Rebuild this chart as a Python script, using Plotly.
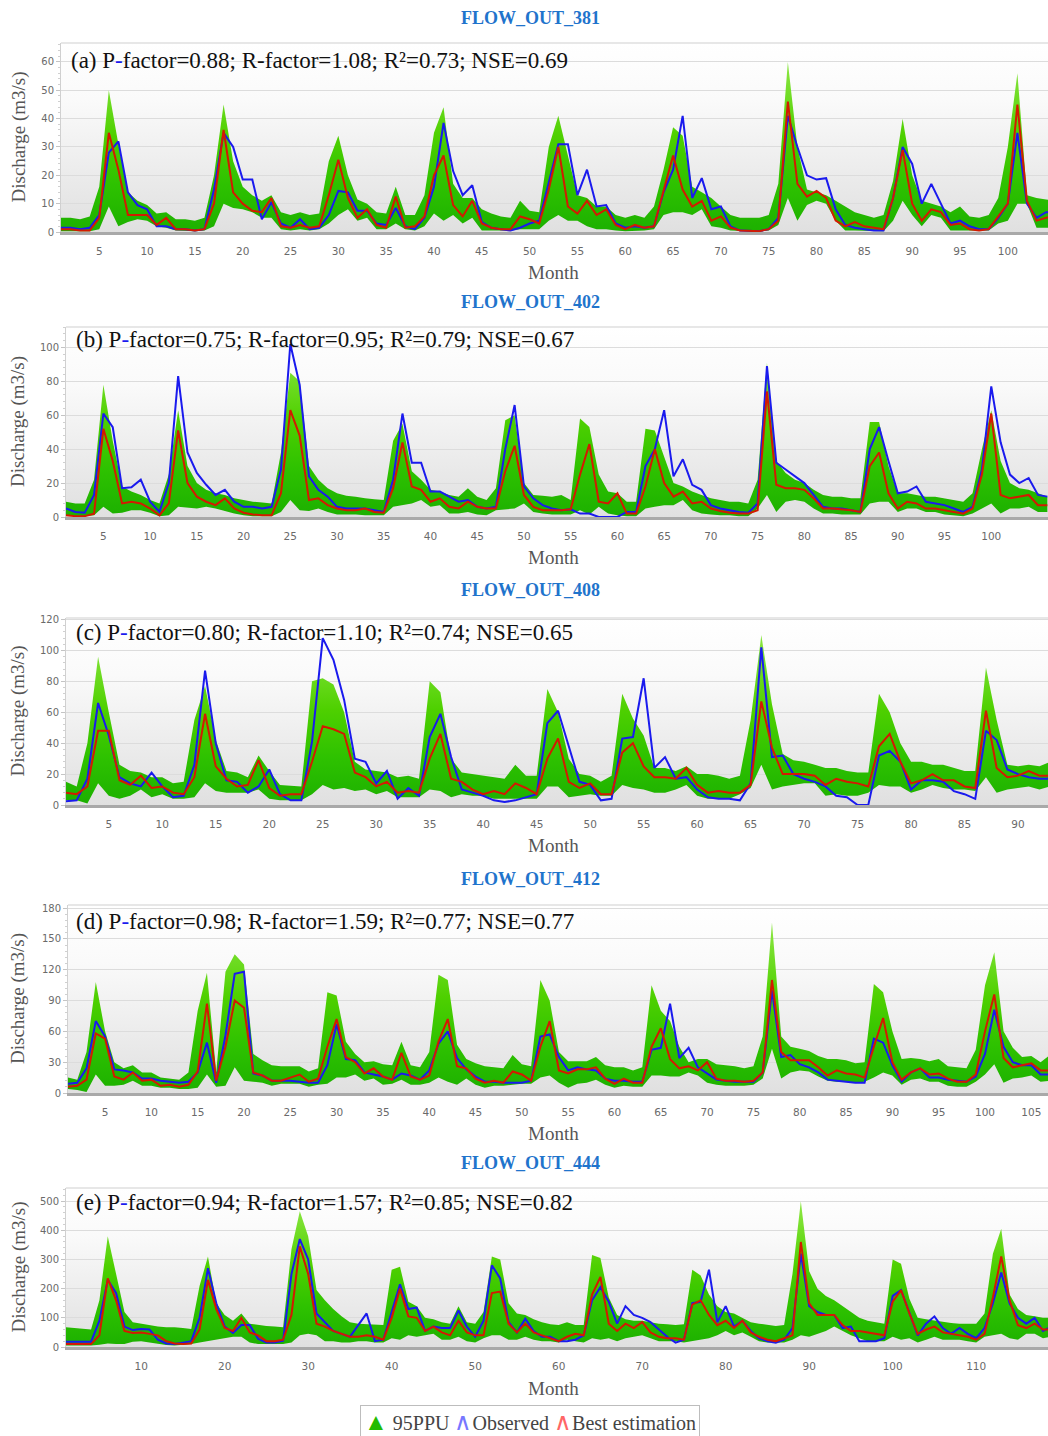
import base64
import plotly.graph_objects as go

W, H = 1048, 1436

# ---------------- data ----------------
upper_a = [5, 5, 4.5, 5.5, 16, 50, 31, 14, 11, 9.5,
           6.5, 7, 4.5, 4.5, 4, 5, 20, 45, 25, 16,
           13, 11, 13, 7, 6, 7, 6, 6.5, 25, 34,
           20, 11.5, 10, 7, 6.5, 16, 6, 6, 13, 35,
           44, 17, 12, 12, 8, 6.5, 5.5, 5, 11, 7.5,
           7, 30, 41, 27, 13, 12, 9, 9, 6, 5,
           6, 5, 9, 22, 37, 34, 16, 14, 12, 9,
           6, 5, 5, 5, 6, 17, 60, 30, 15, 14,
           13, 11, 9, 7, 6, 5, 6, 18, 40, 20,
           11, 10, 9, 7, 9, 5.5, 5, 6, 12, 30,
           56, 13, 12, 11.5, 11]
lower_a = [0.3, 0.3, 0.3, 0.3, 1, 9, 2, 3.5, 4.5, 4,
           2, 1.5, 0.5, 0.3, 0.3, 0.5, 2, 10, 8.5, 8,
           7, 5, 5, 1, 0.5, 1, 0.5, 1, 3, 6,
           8, 4, 5, 1, 1, 3, 1, 0.5, 2, 6.5,
           4, 6, 3, 5, 0.5, 0.5, 0.5, 0.5, 1, 1,
           1, 4, 6, 4, 4, 2, 1, 1, 0.5, 0.3,
           0.5, 0.5, 1, 6, 7, 7, 6, 8, 2, 1.5,
           0.5, 0.3, 0.3, 0.3, 0.5, 2.5, 12, 4, 9.5, 11,
           10, 4, 0.5, 0.5, 0.5, 0.3, 0.3, 4, 11, 6,
           2, 6, 5, 0.5, 0.5, 0.3, 0.3, 0.5, 3, 4,
           10, 10, 1.5, 1.5, 1.5]
obs_a = [1.5, 1.5, 1, 1.5, 6, 28, 32, 14, 9.5, 8,
         2, 2, 1, 1, 0.5, 1, 15, 35, 30, 18.5,
         18.5, 4.5, 10.5, 3, 1.5, 4.5, 1, 1.5, 6, 14.5,
         14, 7.5, 7.5, 3, 2.5, 8.5, 2, 1, 5, 16,
         38.5, 21.5, 13, 16.5, 3.5, 1.5, 1, 0.5, 1.5, 3,
         4, 17, 31, 31, 13, 22, 9, 9.5, 3, 1.5,
         2, 1.5, 2, 14, 22, 41, 12, 19, 8, 9,
         2, 0.5, 0.5, 0.3, 1, 5, 41, 30, 20, 18.5,
         19, 8, 2.5, 1.5, 1, 0.5, 0.5, 12, 30, 24,
         10, 17, 10, 3, 4, 2, 1, 1, 5, 10,
         35, 10, 5, 7, 7]
best_a = [1, 1, 0.5, 0.5, 5, 35, 22, 6, 6, 6,
          2.5, 5, 1, 1, 0.5, 1, 10, 36, 14, 10,
          7.5, 7, 12, 2, 1.5, 2.5, 1.5, 2, 13, 25.5,
          12, 5, 8, 2.5, 1.5, 12.5, 1.5, 2, 5.5, 20,
          27, 9.5, 5.5, 11, 3, 1.5, 1, 1, 5.5, 4.5,
          3, 15, 30, 9, 6.5, 11, 6, 8, 2.5, 1,
          2.5, 1.5, 2, 15, 27, 15, 9, 11, 4, 5.5,
          1.5, 0.5, 0.5, 0.3, 1, 4, 46, 17, 12.5, 14.5,
          12, 4, 2, 3.5, 2, 1.5, 1, 12, 29, 10,
          4, 8, 7, 2.5, 3, 1, 0.5, 1, 5.5, 10,
          45, 11, 4, 5, 6]

upper_b = [9, 8, 8, 22, 78, 45, 18, 15, 13, 10,
           8, 25, 63, 30, 20, 16, 14, 13, 11, 10,
           9, 8.5, 8, 38, 85, 80, 30, 22, 17, 14,
           12.5, 12, 11, 10.5, 10, 45, 55, 27, 22, 16,
           15, 13, 12, 17, 12, 10, 17, 57, 60, 20,
           13, 12.5, 12, 13, 10, 58, 53, 25, 15, 14,
           9, 9, 52, 51, 36, 20, 18, 15, 13, 11,
           10, 9, 9, 8, 22, 91, 33, 26, 22, 20,
           16, 13, 12, 12, 11, 11, 56, 56, 30, 14,
           14, 13, 12, 12, 11, 10, 9, 14, 40, 63,
           33, 20, 17, 16, 14, 12]
lower_b = [1, 0.5, 0.5, 1, 6, 2, 2.5, 4, 4, 2.5,
           0.5, 1, 6, 5.5, 5, 6, 5, 3.5, 2, 1,
           0.5, 0.5, 0.5, 3, 10, 4, 3.5, 5, 3, 1.5,
           1.5, 1.5, 1, 1, 1, 6, 7, 8, 10, 6,
           7, 2, 2, 3, 1.5, 1, 4, 4.5, 5, 8,
           3, 2, 1.5, 1.5, 1.5, 4, 1.5, 6, 2, 1,
           0.5, 0.5, 5, 6, 7, 7, 10, 4, 2, 1.5,
           1, 1, 0.5, 0.5, 5, 13, 3, 9, 10, 9,
           5, 2, 2, 1.5, 1.5, 1.5, 8, 9, 9, 3,
           5, 5, 3, 3, 1.5, 1, 0.5, 2, 5, 8,
           2, 5, 5, 6, 3, 3]
obs_b = [5, 3, 2.5, 13, 61, 53, 17, 17.5, 22, 9,
         3, 20, 83, 38, 26, 19, 13, 16, 9, 6,
         6, 5, 6, 28, 102, 78, 24, 16, 12, 6,
         5, 5, 5, 4, 3, 22, 61, 32, 32, 15,
         15, 12, 9, 10, 6, 5, 6, 40, 66, 18,
         11, 7, 5, 4, 4.5, 2, 2, 0, 0, 0,
         3, 3, 30, 40, 63, 24, 34, 19, 16, 7,
         5, 4, 3, 2.5, 8, 89, 32, 28, 24, 20,
         13, 6, 5, 5, 4, 3, 40, 53, 33, 14,
         15, 18, 9, 8, 7, 5, 3, 6, 28, 77,
         44, 25, 20, 23, 13, 12]
best_b = [1, 0.5, 0.5, 2, 52, 33, 8, 9, 8, 5,
          1, 8, 51, 20, 12, 9, 7, 11, 5, 2.5,
          1.5, 1, 1, 14, 63, 48, 10, 11, 7, 5,
          4, 4, 5, 3, 2.5, 17, 44, 18, 16, 9,
          11, 6, 5, 9, 6, 5, 5, 27, 42, 13,
          6, 4, 4, 4, 4.5, 25, 43, 9, 8, 14,
          2, 2, 18, 40, 20, 12, 15, 8, 9, 5,
          3.5, 2.5, 2, 2, 4, 74, 19, 17, 17, 16,
          11, 5, 5, 4.5, 4, 3, 30, 38, 14, 5,
          9, 8, 5, 5, 4, 3, 2, 5, 25, 61,
          13, 11, 12, 13, 7, 7]

upper_c = [15, 12, 40, 96, 60, 26, 22, 21, 18, 18,
           14, 15, 55, 77, 42, 22, 21, 18, 32, 22,
           13, 12.5, 12, 80, 82, 78, 60, 28, 23, 22,
           21, 18, 19, 17, 80, 73, 30, 21, 20, 19,
           18, 17, 26, 19, 19, 75, 60, 30, 20, 19,
           15, 19, 72, 56, 45, 24, 24, 22, 25, 20,
           20, 19, 17, 19, 55, 110, 65, 33, 29, 28,
           26, 24, 24, 22, 21, 21, 72, 60, 40, 28,
           28, 26, 26, 24, 22, 22, 89, 55, 26, 25,
           26, 25, 28]
lower_c = [3, 3, 1, 14, 6, 4, 6, 10, 5, 7,
           4, 4, 5, 14, 9, 8, 8, 8, 10, 4,
           3, 3, 3, 7, 13, 10, 11, 9, 10, 7,
           9, 5, 5, 5, 10, 9, 5, 7, 6, 6,
           4, 4, 4, 4, 4, 12, 12, 5, 6, 7,
           6, 6, 13, 11, 10, 8, 8, 10, 13, 6,
           4, 4, 4, 7, 11, 26, 10, 12, 13, 14,
           14, 6, 7, 6, 6, 8, 13, 12, 12, 8,
           10, 13, 11, 10, 10, 9, 18, 8, 10, 11,
           12, 10, 12]
obs_c = [2.5, 3, 17, 66, 45, 18, 14, 12, 21, 12,
         5, 6, 26, 87, 40, 16, 15, 8, 12, 23,
         7, 3, 3, 41, 108, 94, 68, 30, 28, 14,
         22, 4, 11, 6, 44, 59, 31, 10, 8, 6,
         3, 2, 3, 5, 7, 53, 61, 38, 15, 13,
         3, 4, 43, 44, 82, 24, 31, 17, 18, 10,
         5, 4, 4, 3, 14, 102, 31, 32, 20, 17,
         15, 12, 6, 5, 0, 0, 32, 35, 28, 10,
         16, 16, 15, 9, 7, 4, 48, 42, 23, 20,
         18, 17, 17]
best_c = [8, 7, 12, 48, 48, 16, 13, 19, 11, 12,
          8, 7, 18, 59, 25, 17, 12, 13, 29, 11,
          6, 7, 7, 28, 51, 49, 46, 21, 18, 12,
          15, 8, 9, 8, 30, 46, 17, 15, 10, 7,
          9, 7, 14, 11, 7, 30, 43, 15, 11, 14,
          7, 7, 34, 40, 25, 18, 18, 17, 24, 13,
          8, 9, 8, 8, 13, 67, 37, 20, 20, 20,
          19, 13, 17, 15, 14, 12, 38, 46, 28, 14,
          16, 20, 16, 16, 12, 11, 61, 24, 18, 19,
          22, 19, 19]

upper_d = [15, 13, 40, 108, 60, 30, 24, 27, 20, 20,
           15, 14, 13, 20, 80, 117, 20, 118, 135, 125,
           38, 32, 27, 26, 26, 26, 21, 24, 98, 95,
           50, 38, 30, 31, 28, 27, 50, 27, 25, 40,
           115, 110, 47, 33, 29, 26, 25, 24, 37, 28,
           26, 110, 90, 40, 31, 31, 31, 35, 27, 25,
           25, 22, 25, 105, 80, 70, 45, 30, 33, 33,
           28, 27, 26, 24, 26, 55, 166, 55, 45, 43,
           41, 36, 33, 33, 32, 29, 30, 106, 98, 60,
           33, 34, 33, 31, 33, 26, 25, 24, 42, 105,
           137, 60, 44, 35, 36, 30, 37]
lower_d = [4, 3, 1, 18, 7, 7, 8, 12, 7, 7,
           5, 5, 4, 4, 5, 18, 6, 7, 25, 12,
           11, 10, 7, 9, 9, 9, 6, 8, 9, 15,
           15, 18, 12, 14, 8, 9, 13, 8, 8, 10,
           15, 11, 8, 14, 8, 5, 7, 7, 8, 9,
           9, 15, 17, 10, 5, 9, 10, 13, 8, 5,
           7, 6, 6, 17, 17, 16, 16, 20, 17, 10,
           8, 7, 7, 7, 8, 14, 43, 14, 20, 22,
           21, 16, 12, 11, 11, 10, 11, 15, 20, 17,
           8, 13, 14, 11, 11, 7, 6, 6, 11, 18,
           28, 10, 14, 15, 17, 11, 12]
obs_d = [9, 10, 24, 70, 55, 23, 22, 20, 14, 14,
         12, 11, 10, 11, 20, 49, 10, 56, 116, 118,
         19, 17, 12, 12, 12, 11, 10, 10, 27, 67,
         33, 32, 20, 18, 16, 13, 19, 17, 13, 22,
         48, 60, 34, 23, 16, 11, 11, 10, 10, 10,
         12, 55, 57, 35, 22, 25, 23, 22, 14, 12,
         12, 11, 11, 42, 44, 87, 34, 44, 25, 19,
         13, 12, 11, 11, 11, 20, 100, 35, 37, 28,
         25, 20, 13, 12, 11, 10, 10, 53, 49, 27,
         11, 20, 24, 15, 15, 13, 12, 11, 16, 38,
         81, 45, 30, 27, 27, 18, 18]
best_d = [6, 7, 13, 58, 53, 16, 13, 20, 12, 13,
          7, 8, 6, 8, 21, 87, 12, 45, 90, 83,
          20, 17, 12, 12, 15, 18, 11, 14, 45, 72,
          35, 30, 19, 24, 16, 13, 39, 16, 13, 17,
          50, 72, 26, 24, 14, 10, 12, 10, 21, 18,
          12, 45, 70, 22, 19, 23, 23, 25, 14, 9,
          14, 10, 10, 45, 63, 33, 24, 26, 22, 30,
          14, 12, 12, 11, 12, 20, 110, 40, 32, 32,
          32, 25, 17, 22, 19, 18, 15, 45, 73, 30,
          13, 20, 24, 18, 19, 14, 11, 11, 18, 60,
          96, 34, 25, 27, 29, 22, 22]

upper_e = [68, 66, 62, 60, 160, 380, 250, 120, 85, 80,
           75, 70, 68, 68, 65, 62, 210, 310, 150, 110,
           90, 115, 80, 75, 72, 70, 68, 335, 465, 380,
           195, 160, 130, 105, 85, 80, 78, 75, 75, 265,
           275, 155, 140, 100, 95, 85, 80, 140, 85, 80,
           120, 310, 300, 150, 115, 110, 95, 85, 78, 75,
           85, 75, 75, 315, 305, 170, 110, 95, 90, 90,
           85, 80, 78, 75, 78, 265, 245, 180, 140, 120,
           115, 100, 85, 80, 75, 72, 75, 250, 500, 260,
           200, 175, 160, 140, 120, 100, 90, 85, 80, 300,
           285, 165, 100, 95, 90, 85, 82, 80, 80, 80,
           115, 320, 405, 180, 130, 110, 105, 100, 100]
lower_e = [5, 5, 5, 5, 8, 12, 10, 10, 18, 20,
           15, 10, 7, 5, 7, 10, 15, 20, 25, 30,
           35, 35, 15, 10, 10, 10, 10, 15, 40, 45,
           40, 20, 20, 15, 15, 20, 20, 15, 15, 30,
           25, 40, 35, 40, 45, 25, 25, 35, 20, 15,
           30, 40, 40, 25, 25, 35, 25, 20, 20, 15,
           25, 20, 15, 30, 25, 30, 20, 30, 35, 40,
           30, 20, 20, 20, 15, 20, 25, 30, 40, 55,
           40, 50, 35, 20, 15, 15, 15, 25, 40, 35,
           45, 55, 70, 55, 40, 30, 20, 20, 20, 35,
           25, 30, 15, 25, 35, 25, 25, 25, 20, 15,
           35, 40, 45, 30, 25, 45, 45, 30, 35]
obs_e = [18, 18, 18, 18, 90, 230, 185, 70, 58, 62,
         60, 25, 12, 10, 15, 20, 100, 270, 150, 70,
         48, 75, 75, 28, 15, 15, 22, 250, 370, 300,
         115, 85, 55, 45, 35, 75, 115, 20, 25, 120,
         215, 130, 135, 55, 70, 65, 65, 125, 70, 35,
         90, 280, 235, 85, 50, 97, 55, 35, 35, 20,
         20, 25, 40, 160, 205, 155, 80, 140, 110, 100,
         85, 60, 35, 15, 25, 150, 155, 265, 85, 140,
         70, 90, 55, 30, 20, 15, 25, 65, 320, 140,
         120, 110, 110, 65, 70, 20, 20, 20, 30, 175,
         195, 120, 40, 80, 105, 65, 45, 65, 45, 30,
         65, 150, 255, 150, 100, 80, 100, 55, 70]
best_e = [10, 10, 10, 10, 40, 235, 160, 55, 48, 50,
          45, 40, 20, 12, 10, 12, 60, 230, 130, 65,
          55, 100, 50, 40, 20, 20, 25, 110, 345, 250,
          80, 70, 55, 45, 35, 35, 40, 35, 25, 100,
          200, 105, 100, 55, 70, 50, 40, 90, 50, 40,
          40, 185, 190, 80, 50, 80, 50, 40, 30, 20,
          35, 45, 40, 180, 240, 80, 55, 80, 65, 85,
          50, 35, 30, 30, 25, 145, 160, 110, 75, 90,
          65, 90, 50, 35, 25, 20, 30, 40, 360, 150,
          110, 110, 110, 75, 55, 55, 50, 45, 40, 155,
          195, 115, 45, 60, 70, 50, 45, 40, 35, 25,
          45, 170, 310, 160, 75, 65, 80, 60, 60]

titles = ["FLOW_OUT_381", "FLOW_OUT_402", "FLOW_OUT_408", "FLOW_OUT_412", "FLOW_OUT_444"]
labels = ["(a)", "(b)", "(c)", "(d)", "(e)"]
p_factor = ["0.88", "0.75", "0.80", "0.98", "0.94"]
r_factor = ["1.08", "0.95", "1.10", "1.59", "1.57"]
r2 = ["0.73", "0.79", "0.74", "0.77", "0.85"]
nse = ["0.69", "0.67", "0.65", "0.77", "0.82"]
y_max = [66.7, 112, 121, 183, 545]
y_dtick = [10, 20, 20, 30, 100]
x_max = [104.2, 106.07, 92.8, 106.8, 118.6]
x_dtick = [5, 5, 5, 5, 10]

series = [
    (upper_a, lower_a, obs_a, best_a),
    (upper_b, lower_b, obs_b, best_b),
    (upper_c, lower_c, obs_c, best_c),
    (upper_d, lower_d, obs_d, best_d),
    (upper_e, lower_e, obs_e, best_e),
]

# ---------------- layout geometry (pixels) ----------------
# top, bottom, left, title_y, stats_x, stats_y, month_y
geo = [
    (43, 232, 61, 18, 69, 60, 272),
    (327, 517, 66, 302, 74, 339, 557),
    (618, 805, 66, 590, 74, 632, 845),
    (905, 1093, 68, 879, 74, 921, 1133),
    (1188, 1347, 66, 1163, 74, 1202, 1388),
]

SERIF = "Liberation Serif"
SANS = "DejaVu Sans"

svg = ('<svg xmlns="http://www.w3.org/2000/svg" width="10" height="100" preserveAspectRatio="none">'
       '<defs><linearGradient id="g" x1="0" y1="0" x2="0" y2="1">'
       '<stop offset="0" stop-color="#ffffff"/><stop offset="0.3" stop-color="#fafafa"/>'
       '<stop offset="1" stop-color="#e0e0e0"/></linearGradient></defs>'
       '<rect width="10" height="100" fill="url(#g)"/></svg>')
bg_src = "data:image/svg+xml;base64," + base64.b64encode(svg.encode()).decode()

fig = go.Figure()
annotations = []
images = []
shapes = []
layout = dict(width=W, height=H, margin=dict(l=0, r=0, t=0, b=0, autoexpand=False),
              paper_bgcolor="white", plot_bgcolor="rgba(0,0,0,0)",
              showlegend=False, hovermode=False)


def paper_y(py):
    return 1 - py / H


for i, (up, lo, ob, be) in enumerate(series):
    n = i + 1
    xs = "" if n == 1 else str(n)
    top, bot, left, ty, sx, sy, my = geo[i]
    months = list(range(1, len(up) + 1))
    xa, ya = "x" + xs, "y" + xs

    fig.add_trace(go.Scatter(x=months, y=lo, mode="lines", line=dict(width=0, color="rgba(0,0,0,0)"),
                             xaxis=xa, yaxis=ya, hoverinfo="skip"))
    fig.add_trace(go.Scatter(x=months, y=up, mode="lines", line=dict(width=0, color="rgba(0,0,0,0)"),
                             fill="tonexty",
                             fillgradient=dict(type="vertical", start=0, stop=y_max[i] * 0.85,
                                               colorscale=[[0, "#1cb000"], [0.3, "#2ec200"],
                                                           [0.6, "#4ed000"], [1, "#86e43c"]]),
                             xaxis=xa, yaxis=ya, hoverinfo="skip"))
    fig.add_trace(go.Scatter(x=months, y=ob, mode="lines", line=dict(width=2, color="#1a1aee"),
                             xaxis=xa, yaxis=ya, name="Observed"))
    fig.add_trace(go.Scatter(x=months, y=be, mode="lines", line=dict(width=2, color="#d41a00"),
                             xaxis=xa, yaxis=ya, name="Best estimation"))

    dom_y = [paper_y(bot), paper_y(top)]
    dom_x = [left / W, 1.0]
    layout["xaxis" + xs] = dict(domain=dom_x, anchor=ya, range=[1, x_max[i]], automargin=False,
                                tickmode="linear", tick0=0, dtick=x_dtick[i],
                                showgrid=False, zeroline=False,
                                showline=True, linecolor="#a9a9a9", linewidth=3,
                                ticks="outside", ticklen=7, tickcolor="rgba(0,0,0,0)",
                                tickfont=dict(family=SANS, size=10.5, color="#6a6a6a"))
    layout["yaxis" + xs] = dict(domain=dom_y, anchor=xa, range=[0, y_max[i]], automargin=False,
                                tickmode="linear", tick0=0, dtick=y_dtick[i],
                                showgrid=True, gridcolor="#dcdcdc", gridwidth=1,
                                zeroline=False, showline=True, linecolor="#d0d0d0", linewidth=1,
                                ticks="outside", ticklen=4, tickcolor="#c4c4c4",
                                minor=dict(ticks="outside", ticklen=2, tickcolor="#d0d0d0",
                                           dtick=y_dtick[i] / 5, showgrid=False),
                                tickfont=dict(family=SANS, size=10, color="#6a6a6a"))

    images.append(dict(source=bg_src, xref="paper", yref="paper", x=dom_x[0], y=dom_y[1],
                       sizex=dom_x[1] - dom_x[0], sizey=dom_y[1] - dom_y[0],
                       sizing="stretch", xanchor="left", yanchor="top", layer="below"))
    shapes.append(dict(type="line", xref=xa + " domain", yref=ya + " domain",
                       x0=0, x1=1, y0=1, y1=1, line=dict(color="#cfcfcf", width=1)))

    annotations.append(dict(text="<b>" + titles[i] + "</b>", x=530 / W, y=paper_y(ty),
                            xref="paper", yref="paper", xanchor="center", yanchor="middle",
                            showarrow=False, font=dict(family=SERIF, size=18, color="#1f74cc")))
    stats = (f"{labels[i]} P<span style='color:#1a1aee'>-</span>factor={p_factor[i]}; "
             f"R-factor={r_factor[i]}; R²={r2[i]}; NSE={nse[i]}")
    annotations.append(dict(text=stats, x=sx / W, y=paper_y(sy), xref="paper", yref="paper",
                            xanchor="left", yanchor="middle", showarrow=False,
                            font=dict(family=SERIF, size=23, color="#111111")))
    annotations.append(dict(text="Month", x=553 / W, y=paper_y(my), xref="paper", yref="paper",
                            xanchor="center", yanchor="middle", showarrow=False,
                            font=dict(family=SERIF, size=19, color="#555555")))
    annotations.append(dict(text="Discharge (m3/s)", x=18 / W, y=(dom_y[0] + dom_y[1]) / 2,
                            xref="paper", yref="paper", xanchor="center", yanchor="middle",
                            textangle=-90, showarrow=False,
                            font=dict(family=SERIF, size=19, color="#555555")))

legend_text = ("<span style='color:#22bb00;font-size:24px'>▲</span> 95PPU "
               "<span style='color:#7777ff;font-size:24px'>∧</span>Observed "
               "<span style='color:#ff6666;font-size:24px'>∧</span>Best estimation")
annotations.append(dict(text=legend_text, x=530 / W, y=paper_y(1422), xref="paper", yref="paper",
                        xanchor="center", yanchor="middle",
                        showarrow=False, bgcolor="white", bordercolor="#bdbdbd", borderwidth=1,
                        borderpad=3, font=dict(family=SERIF, size=20, color="#444444")))

layout["annotations"] = annotations
layout["images"] = images
layout["shapes"] = shapes
fig.update_layout(**layout)

fig.write_html("out.html")
